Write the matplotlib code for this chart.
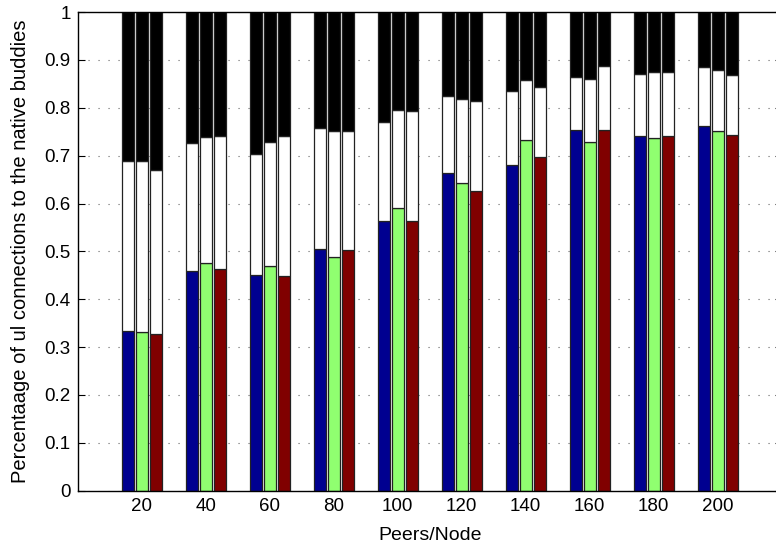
import matplotlib
matplotlib.use("Agg")
import matplotlib.pyplot as plt
import numpy as np

plt.rcParams['font.family'] = ['Liberation Sans', 'DejaVu Sans']

peers = [20, 40, 60, 80, 100, 120, 140, 160, 180, 200]

# Fraction of connections to native buddies (coloured base segment), per scheme
native_a = [0.334, 0.459, 0.450, 0.505, 0.564, 0.663, 0.680, 0.753, 0.742, 0.761]
native_b = [0.332, 0.476, 0.470, 0.489, 0.591, 0.642, 0.733, 0.728, 0.737, 0.752]
native_c = [0.327, 0.464, 0.448, 0.503, 0.563, 0.627, 0.698, 0.753, 0.740, 0.743]

# Cumulative level reached after the white (second) segment
cum_a = [0.689, 0.726, 0.704, 0.758, 0.770, 0.825, 0.836, 0.864, 0.871, 0.885]
cum_b = [0.689, 0.738, 0.729, 0.751, 0.795, 0.819, 0.857, 0.860, 0.874, 0.878]
cum_c = [0.670, 0.740, 0.742, 0.751, 0.794, 0.814, 0.844, 0.887, 0.874, 0.868]

base_colors = ['#000090', '#90FF70', '#800000']

fig = plt.figure(figsize=(7.76, 5.47), dpi=100)
ax = fig.add_axes([0.1001, 0.1029, 0.9072, 0.8751])

x = np.array(peers, dtype=float)
offsets = [-4.4, 0.0, 4.4]
width = 3.8
edge = dict(edgecolor='#222222', linewidth=0.9)

for off, base, cum, col in zip(offsets, [native_a, native_b, native_c],
                                [cum_a, cum_b, cum_c], base_colors):
    base = np.array(base)
    cum = np.array(cum)
    xs = x + off
    ax.bar(xs, base, width, color=col, zorder=2, **edge)
    ax.bar(xs, cum - base, width, bottom=base, color='white', zorder=2, **edge)
    ax.bar(xs, 1.0 - cum, width, bottom=cum, color='black', zorder=2, **edge)

ax.set_xlim(0, 220)
ax.set_ylim(0, 1)
ax.set_xticks(peers)
ax.set_xticklabels([str(p) for p in peers])
yt = np.round(np.arange(0, 1.01, 0.1), 1)
ax.set_yticks(yt)
ax.set_yticklabels(['0'] + [f'{v:g}' for v in yt[1:-1]] + ['1'])

ax.set_axisbelow(True)
ax.yaxis.grid(True, linestyle=(0, (1, 8)), color='#666666', linewidth=0.8)

ax.tick_params(direction='in', length=5, width=0.8, top=True, right=True,
               labelsize=13.5, pad=5)
for s in ax.spines.values():
    s.set_linewidth(1.0)
    s.set_color('black')

ax.set_xlabel('Peers/Node', fontsize=14)
ax.set_ylabel('Percentaage of ul connections to the native buddies', fontsize=14.5)
ax.xaxis.set_label_coords(0.5, -0.076)
ax.yaxis.set_label_coords(-0.068, 0.5)

fig.savefig('out.png', dpi=100)
